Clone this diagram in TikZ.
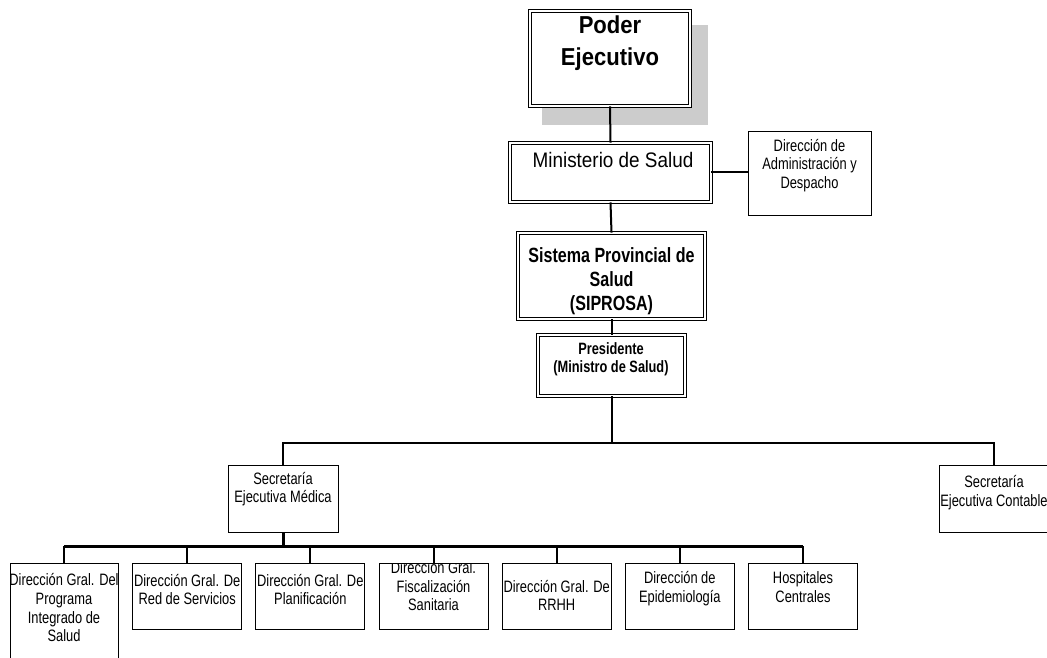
\documentclass[tikz,border=0pt]{standalone}
\usepackage{fontspec}
\setmainfont{Liberation Sans}
\newfontfamily\narrowfont[FakeStretch=0.78]{Liberation Sans}
\newfontfamily\widefont[FakeStretch=0.9]{Liberation Sans}
\begin{document}
\begin{tikzpicture}[x=1pt,y=-1pt,
  box/.style={draw, line width=1pt, fill=white, inner sep=0, minimum width=#1},
  dbox/.style={draw, line width=0.9pt, double=white, double distance=1.8pt, fill=white, inner sep=0},
  txt/.style={inner sep=0, anchor=north, align=center, font=\narrowfont\fontsize{16.5}{18.6}\selectfont},
  conn/.style={line width=2pt},
  bus/.style={line width=3pt}]
\useasboundingbox (0,0) rectangle (1047,658);
\fill[white] (0,0) rectangle (1047,658);
% shadow
\fill[black!20] (542,25) rectangle (708,125);
% top boxes
\node[dbox, minimum width=160pt, minimum height=95pt] (poder) at (610,58.5) {};
\node[dbox, minimum width=201pt, minimum height=59pt] (min) at (610.5,172.5) {};
\node[dbox, minimum width=187pt, minimum height=86pt] (sis) at (611.5,276) {};
\node[dbox, minimum width=147pt, minimum height=61pt] (pres) at (611.5,365.5) {};
\node[box=123pt, minimum height=83pt] (adm) at (809.5,173.5) {};
\node[box=110pt, minimum height=67pt] (secM) at (283,498.5) {};
\node[box=110pt, minimum height=67pt] (secC) at (994,498.5) {};
% texts top
\node[txt, font=\widefont\bfseries\fontsize{24.5}{32.5}\selectfont] (tpoder) at (610,33-22.75) {\strut Poder\\Ejecutivo};
\node[txt, font=\widefont\fontsize{21}{24}\selectfont] (tmin) at (613,167.3-16.8) {\strut Ministerio de Salud};
\node[txt, font=\narrowfont\bfseries\fontsize{20.6}{24}\selectfont] (tsis) at (611.5,262-16.8) {\strut Sistema Provincial de\\Salud\\(SIPROSA)};
\node[txt, font=\narrowfont\bfseries\fontsize{16.4}{17.5}\selectfont] (tpres) at (611,354.5-12.25) {\strut Presidente\\(Ministro de Salud)};
\node[txt, font=\narrowfont\fontsize{16.5}{18.5}\selectfont] (tadm) at (809.5,151-12.95) {\strut Dirección de\\Administración y\\Despacho};
\node[txt] (tsecM) at (283,484-13.02) {\strut Secretaría\\Ejecutiva Médica};
\node[txt, font=\narrowfont\fontsize{16.5}{18.3}\selectfont] (tsecC) at (994,487.5-12.81) {\strut Secretaría\\Ejecutiva Contable};
% bottom boxes
\node[box=108pt, minimum height=140pt, anchor=north] (d1) at (64,563) {};
\node[box=109pt, minimum height=66pt, anchor=north] (d2) at (187.2,563) {};
\node[box=109pt, minimum height=66pt, anchor=north] (d3) at (310.3,563) {};
\node[box=109pt, minimum height=66pt, anchor=north] (d4) at (433.5,563) {};
\node[box=109pt, minimum height=66pt, anchor=north] (d5) at (556.7,563) {};
\node[box=109pt, minimum height=66pt, anchor=north] (d6) at (679.8,563) {};
\node[box=109pt, minimum height=66pt, anchor=north] (d7) at (803,563) {};
\node[txt] (t1) at (64,585.7-13.02) {\strut Dirección Gral. Del\\Programa\\Integrado de\\Salud};
\node[txt] (t2) at (187.2,586-13.02) {\strut Dirección Gral. De\\Red de Servicios};
\node[txt] (t3) at (310.3,586-13.02) {\strut Dirección Gral. De\\Planificación};
\begin{scope}
\clip (d4.north west) rectangle (d4.south east);
\node[txt] (t4) at (433.5,573.5-13.02) {\strut Dirección Gral.\\Fiscalización\\Sanitaria};
\end{scope}
\node[txt] (t5) at (556.7,592-13.02) {\strut Dirección Gral. De\\RRHH};
\node[txt] (t6) at (679.8,583.5-13.02) {\strut Dirección de\\Epidemiología};
\node[txt] (t7) at (803,583.5-13.02) {\strut Hospitales\\Centrales};
% connectors
\draw[conn] (poder.south) -- (min.north);
\draw[conn] (min.south) -- (sis.north);
\draw[conn] (sis.south) -- (pres.north);
\draw[conn] (min.east) -- (min.east -| adm.west);
\coordinate (b1) at (611.5,443);
\draw[conn] (pres.south) -- (b1);
\draw[conn] (secM.north) |- (b1) -| (secC.north);
\coordinate (b2) at (283,546);
\draw[bus] (secM.south) -- (b2);
\draw[bus] (d1.north |- b2) -- (d7.north |- b2);
\draw[conn] (d1.north) -- (d1.north |- b2);
\draw[conn] (d2.north) -- (d2.north |- b2);
\draw[conn] (d3.north) -- (d3.north |- b2);
\draw[conn] (d4.north) -- (d4.north |- b2);
\draw[conn] (d5.north) -- (d5.north |- b2);
\draw[conn] (d6.north) -- (d6.north |- b2);
\draw[conn] (d7.north) -- (d7.north |- b2);
\end{tikzpicture}
\end{document}
